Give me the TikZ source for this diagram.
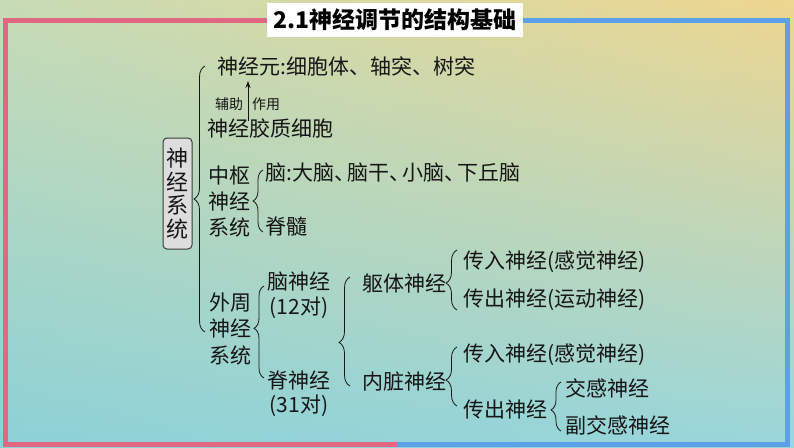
\documentclass[tikz,border=0pt]{standalone}
\usepackage{fontspec}
\setmainfont{Noto Sans CJK SC}
\usetikzlibrary{decorations.pathreplacing,arrows.meta}
\definecolor{pinkline}{RGB}{224,104,130}
\definecolor{blueline}{RGB}{92,160,234}
\definecolor{boxgray}{RGB}{221,221,221}
\definecolor{ink}{RGB}{22,22,22}
\pgfdeclarefunctionalshading{bgshade}{\pgfpoint{0bp}{0bp}}{\pgfpoint{100bp}{100bp}}{}{
 0.02 mul 0.5 sub exch 0.02 mul 0.5 sub exch
 2 copy mul 0.10 mul 2 index 0.05 mul add 1 index 0.23 mul add 0.55 add
 3 1 roll
 2 copy mul -0.04 mul 2 index 0.02 mul add 1 index 0.04 mul add 0.82 add
 3 1 roll
 2 copy mul -0.17 mul 2 index 0.02 mul add 1 index -0.13 mul add 0.84 add
 3 1 roll pop pop
}
\newcommand{\narrowdun}{、\hspace{-0.38em}}
\begin{document}
\begin{tikzpicture}[x=1pt,y=-1pt,
  txt/.style={inner sep=0pt, anchor=west, text=ink, font=\fontsize{21}{26}\selectfont},
  smalltxt/.style={inner sep=0pt, anchor=west, text=ink, font=\fontsize{14}{16}\selectfont},
  stack/.style={inner sep=0pt, text=ink, align=center, font=\fontsize{21}{#1}\selectfont},
  brc/.style={draw=ink, line width=0.8pt, decorate, decoration={brace, amplitude=10pt, aspect=#1}},
  brc/.default=0.5,
  frame/.style={line width=5pt, miter limit=10},
  titlebox/.style={fill=white, minimum width=256pt, minimum height=34pt, inner sep=0pt, text=black, font=\bfseries\fontsize{23}{26}\selectfont},
  sysbox/.style={draw=ink!85, fill=boxgray, rounded corners=4pt, line width=1pt, minimum width=29pt, minimum height=111pt, inner sep=0pt, align=center, text=ink, font=\fontsize{22}{23.5}\selectfont},
  arr/.style={draw=ink, line width=0.8pt, -{Stealth[length=7pt,width=5pt]}}]
\useasboundingbox (0,0) rectangle (794,447);
\shade[shading=bgshade] (0,0) rectangle (794,447);
% frame
\draw[frame, pinkline] (395,20.5) -- (5,20.5) -- (5,444.5) -- (397,444.5);
\draw[frame, blueline] (395,20.5) -- (787,20.5) -- (787,444.5) -- (397,444.5);
% title
\node[titlebox] (title) at (395,20) {2.1神经调节的结构基础};
% root box
\node[sysbox] (sys) at (177.5,193.5) {神\\经\\系\\统};
% level texts
\node[txt] (neuron) at (217,66) {神经元:细胞体、轴突、树突};
\node[smalltxt] (aux1) at (215,104) {辅助};
\node[smalltxt] (aux2) at (252,104) {作用};
\node[txt] (glia) at (207,129) {神经胶质细胞};
\node[stack=26, anchor=west] (cns) at (208,201) {中枢\\神经\\系统};
\node[txt] (brain) at (265,173) {脑:大脑\narrowdun 脑干\narrowdun 小脑\narrowdun 下丘脑};
\node[txt] (cord) at (265,226) {脊髓};
\node[stack=26.5, anchor=west] (pns) at (209,328.5) {外周\\神经\\系统};
\node[stack=25] (cn) at (299,295.5) {脑神经\\(12对)};
\node[stack=23.5] (sn) at (299,393.5) {脊神经\\(31对)};
\node[txt] (som) at (362,283) {躯体神经};
\node[txt] (vis) at (362,382) {内脏神经};
\node[txt] (aff1) at (463,262) {传入神经(感觉神经)};
\node[txt] (eff1) at (463,300) {传出神经(运动神经)};
\node[txt] (aff2) at (463,355) {传入神经(感觉神经)};
\node[txt] (eff2) at (463,410) {传出神经};
\node[txt] (sym) at (565,388) {交感神经};
\node[txt] (para) at (565,425) {副交感神经};
% arrow
\coordinate (ax) at (248,0);
\draw[arr, shorten <=-1.5pt, shorten >=5pt] (glia.north -| ax) -- (neuron.south -| ax);
% brace coordinates
\coordinate (b1a) at (205,332); \coordinate (b1b) at (205,66);
\coordinate (b2a) at (263,232); \coordinate (b2b) at (263,170);
\coordinate (b3a) at (264,378); \coordinate (b3b) at (264,286);
\coordinate (b4a) at (350,386); \coordinate (b4b) at (350,277);
\coordinate (b5a) at (457,310); \coordinate (b5b) at (457,250);
\coordinate (b6a) at (457,406); \coordinate (b6b) at (457,347);
\coordinate (b7a) at (561,431); \coordinate (b7b) at (561,382);
\draw[brc=0.5, decoration={amplitude=11pt}] (b1a) -- (b1b);
\draw[brc=0.5] (b2a) -- (b2b);
\draw[brc=0.54] (b3a) -- (b3b);
\draw[brc=0.40, decoration={amplitude=11pt}] (b4a) -- (b4b);
\draw[brc=0.45, decoration={amplitude=11pt}] (b5a) -- (b5b);
\draw[brc=0.44, decoration={amplitude=11pt}] (b6a) -- (b6b);
\draw[brc=0.43] (b7a) -- (b7b);
\end{tikzpicture}
\end{document}
